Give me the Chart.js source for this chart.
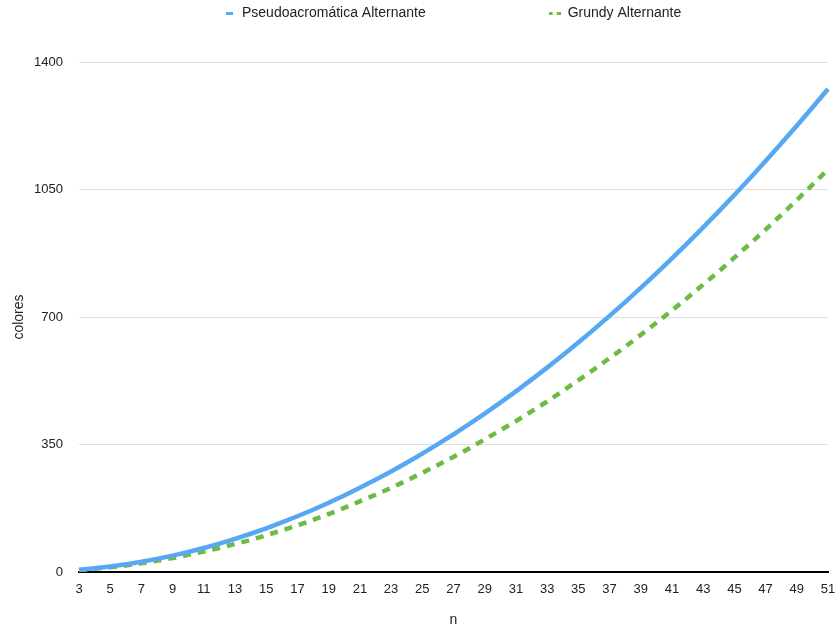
<!DOCTYPE html>
<html lang="es">
<head>
    <meta charset="UTF-8">
    <title>Pseudoacromática vs Grundy Alternante</title>
    <script src="https://cdn.jsdelivr.net/npm/chart.js"></script>
    <style>
        body { margin: 0; background: #fff; }
        #wrap { width: 835px; height: 629px; }
    </style>
</head>
<body>
    <div id="wrap">
        <canvas id="chart" width="835" height="629"></canvas>
    </div>

    <script>
        // data
        const ns = [3, 4, 5, 6, 7, 8, 9, 10, 11, 12, 13, 14, 15, 16, 17, 18, 19, 20, 21, 22, 23, 24, 25, 26, 27,
                    28, 29, 30, 31, 32, 33, 34, 35, 36, 37, 38, 39, 40, 41, 42, 43, 44, 45, 46, 47, 48, 49, 50, 51];
        const pseudo = [6, 10, 15, 21, 28, 36, 45, 55, 66, 78, 91, 105, 120, 136, 153, 171, 190, 210, 231, 253, 276, 300, 325, 351, 378,
                        406, 435, 465, 496, 528, 561, 595, 630, 666, 703, 741, 780, 820, 861, 903, 946, 990, 1035, 1081, 1128, 1176, 1225, 1275, 1326];
        const grundy = [5, 9, 13, 18, 24, 31, 38, 47, 56, 66, 77, 88, 101, 114, 128, 143, 159, 176, 194, 212, 231, 251, 272, 294, 316,
                        339, 364, 389, 414, 441, 468, 497, 526, 556, 587, 618, 651, 684, 718, 753, 789, 825, 863, 901, 940, 980, 1021, 1063, 1105];
        const yTicks = [0, 350, 700, 1050, 1400];

        const BLUE = '#55a8f1';
        const GREEN = '#6dbb45';
        const FONT = 'Liberation Sans, Arial, sans-serif';

        // small legend markers: a short line and two dots
        function marker(color, parts) {
            const c = document.createElement('canvas');
            c.width = parts === 1 ? 7 : 12;
            c.height = 3;
            const g = c.getContext('2d');
            g.fillStyle = color;
            if (parts === 1) g.fillRect(0, 0, 7, 3);
            else { g.fillRect(0, 0, 4, 3); g.fillRect(8, 0, 4, 3); }
            return c;
        }

        // gap between the two legend entries
        const m = document.createElement('canvas').getContext('2d');
        m.font = '14px ' + FONT;
        const legendGap = Math.round(549 - 242 - m.measureText('Pseudoacromática Alternante').width);

        // place the legend where the original has it
        const legendPlace = {
            id: 'legendPlace',
            afterLayout(chart) {
                chart.legend.left = 223 - legendGap;
                chart.legend.top = 6 - legendGap;
            }
        };

        new Chart(document.getElementById('chart'), {
            type: 'line',
            data: {
                labels: ns,
                datasets: [
                    {
                        label: 'Pseudoacromática Alternante',
                        data: pseudo,
                        borderColor: BLUE,
                        backgroundColor: BLUE,
                        borderWidth: 4.5,
                        pointRadius: 0,
                        pointStyle: marker(BLUE, 1),
                        fill: false
                    },
                    {
                        label: 'Grundy Alternante',
                        data: grundy,
                        borderColor: GREEN,
                        backgroundColor: GREEN,
                        borderWidth: 4.5,
                        borderDash: [8, 7],
                        pointRadius: 0,
                        pointStyle: marker(GREEN, 2),
                        fill: false
                    }
                ]
            },
            options: {
                responsive: false,
                animation: false,
                layout: { padding: 0 },
                plugins: {
                    legend: {
                        align: 'start',
                        maxHeight: 62,
                        labels: {
                            usePointStyle: true,
                            boxWidth: 12,
                            padding: legendGap,
                            color: '#222',
                            font: { family: FONT, size: 14 }
                        }
                    },
                    tooltip: { enabled: false }
                },
                scales: {
                    x: {
                        grid: { display: false },
                        border: { display: true, color: '#000', width: 2 },
                        ticks: {
                            autoSkip: false,
                            maxRotation: 0,
                            padding: 2,
                            color: '#222',
                            font: { family: FONT, size: 13 },
                            callback: (v, i) => (ns[i] % 2 ? ns[i] : null)
                        },
                        title: {
                            display: true,
                            text: 'n',
                            color: '#222',
                            font: { family: FONT, size: 14 },
                            padding: { top: 0, bottom: 0 }
                        },
                        afterFit: s => { s.height = 57; s.paddingRight = 7; }
                    },
                    y: {
                        min: 0,
                        max: 1400,
                        afterBuildTicks: s => { s.ticks = yTicks.map(v => ({ value: v })); },
                        grid: { color: '#dedede', lineWidth: 1, drawTicks: false },
                        border: { display: false },
                        ticks: {
                            padding: 16,
                            color: '#222',
                            font: { family: FONT, size: 13 },
                            callback: v => String(v)
                        },
                        title: {
                            display: true,
                            text: 'colores',
                            color: '#222',
                            font: { family: FONT, size: 14 },
                            padding: { top: 11, bottom: 0 }
                        },
                        afterFit: s => { s.width = 79; }
                    }
                }
            },
            plugins: [legendPlace]
        });
    </script>
</body>
</html>
